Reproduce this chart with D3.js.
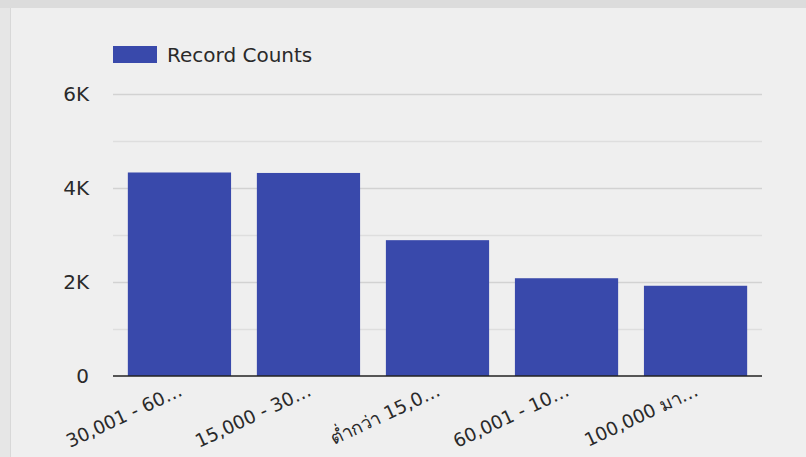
<!DOCTYPE html>
<html>
<head>
<meta charset="utf-8">
<script src="https://cdn.jsdelivr.net/npm/d3@7"></script>
<style>
  html, body { margin: 0; padding: 0; background: #efefef; }
  svg { display: block; }
  text { font-family: "DejaVu Sans", "Noto Sans", sans-serif; }
</style>
</head>
<body>
<svg id="chart" width="806" height="457"></svg>
<script>
const categories = ["30,001 - 60…", "15,000 - 30…", "ต่ำกว่า 15,0…", "60,001 - 10…", "100,000 มา…"];
const recordCounts = [4330, 4320, 2890, 2080, 1920];
const seriesName = "Record Counts";
const majorTicks = [0, 2000, 4000, 6000];
const minorTicks = [1000, 3000, 5000];
const tickLabels = ["0", "2K", "4K", "6K"];

const svg = d3.select("#chart");
const W = 806, H = 457;
const FONT = "'DejaVu Sans', 'Noto Sans', sans-serif";

// background panel
svg.append("rect").attr("x", 0).attr("y", 0).attr("width", W).attr("height", H).attr("fill", "#efefef");
svg.append("rect").attr("x", 0).attr("y", 0).attr("width", W).attr("height", 8).attr("fill", "#dcdcdc");
svg.append("rect").attr("x", 0).attr("y", 8).attr("width", 10).attr("height", H - 8).attr("fill", "#e6e6e6");
svg.append("line").attr("x1", 10.5).attr("x2", 10.5).attr("y1", 8).attr("y2", H).attr("stroke", "#d8d8d8");

const x = d3.scaleBand().domain(categories).range([113, 762]).paddingInner(0.2).paddingOuter(0.115);
const y = d3.scaleLinear().domain([0, 6000]).range([376, 94]);

// gridlines
svg.append("g").selectAll("line").data(minorTicks).join("line")
  .attr("x1", 113).attr("x2", 762)
  .attr("y1", d => Math.round(y(d)) + 0.5).attr("y2", d => Math.round(y(d)) + 0.5)
  .attr("stroke", "#dedede").attr("stroke-width", 1.5);
svg.append("g").selectAll("line").data(majorTicks.filter(d => d > 0)).join("line")
  .attr("x1", 113).attr("x2", 762)
  .attr("y1", d => Math.round(y(d)) + 0.5).attr("y2", d => Math.round(y(d)) + 0.5)
  .attr("stroke", "#d2d2d2").attr("stroke-width", 1.5);

// y axis labels
const yAxis = d3.axisLeft(y).tickValues(majorTicks).tickFormat((d, i) => tickLabels[i]).tickSize(0).tickPadding(0);
const gy = svg.append("g").attr("transform", "translate(89,0)").call(yAxis);
gy.select(".domain").remove();
gy.selectAll("text").attr("font-size", 20).attr("fill", "#2a2a2a").attr("font-family", FONT);

// bars
svg.append("g").selectAll("rect").data(recordCounts).join("rect")
  .attr("x", (d, i) => x(categories[i]))
  .attr("width", x.bandwidth())
  .attr("y", d => y(d))
  .attr("height", d => y(0) - y(d))
  .attr("fill", "#3949ab");

// baseline
svg.append("line").attr("x1", 113).attr("x2", 762).attr("y1", y(0)).attr("y2", y(0))
  .attr("stroke", "#222").attr("stroke-width", 1.5);

// x axis labels
const xAxis = d3.axisBottom(x).tickSize(0).tickPadding(0);
const gx = svg.append("g").call(xAxis);
gx.select(".domain").remove();
gx.selectAll(".tick").attr("transform", d => `translate(${x(d) + x.bandwidth() / 2 + 4},395)`);
gx.selectAll("text")
  .attr("y", 0).attr("dy", 0)
  .attr("text-anchor", "end")
  .attr("transform", "rotate(-25)")
  .attr("font-size", 18.5).attr("fill", "#2a2a2a").attr("font-family", FONT);

// legend
svg.append("rect").attr("x", 113).attr("y", 46).attr("width", 44).attr("height", 17).attr("fill", "#3949ab");
svg.append("text").attr("x", 167).attr("y", 62).text(seriesName)
  .attr("font-size", 20).attr("fill", "#2a2a2a").attr("font-family", FONT);
</script>
</body>
</html>
